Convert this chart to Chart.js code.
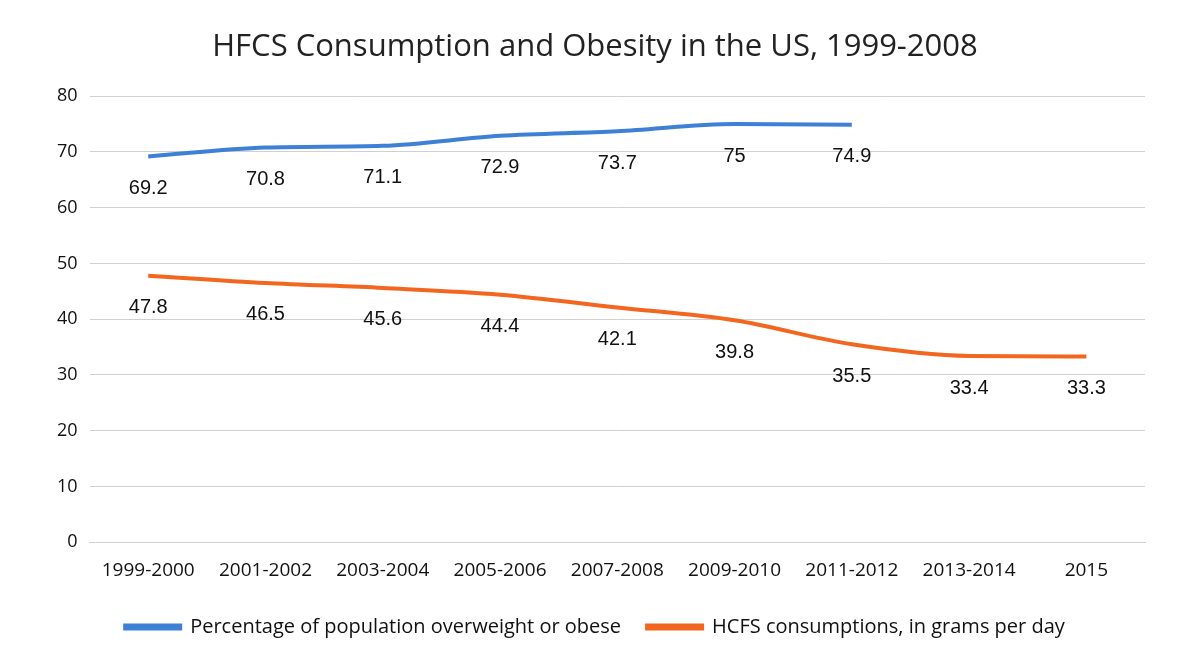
<!DOCTYPE html>
<html>
<head>
<meta charset="utf-8">
<script src="https://cdn.jsdelivr.net/npm/chart.js@4"></script>
<style>
  html, body { margin: 0; padding: 0; background: #fff; }
  #wrap { width: 1200px; height: 672px; }
</style>
</head>
<body>
<div id="wrap"><canvas id="chart"></canvas></div>
<script>
// categories and series values
const periods = ['1999-2000', '2001-2002', '2003-2004', '2005-2006', '2007-2008', '2009-2010', '2011-2012', '2013-2014', '2015'];
const overweightPct = [69.2, 70.8, 71.1, 72.9, 73.7, 75, 74.9, null, null];
const hfcsGrams = [47.8, 46.5, 45.6, 44.4, 42.1, 39.8, 35.5, 33.4, 33.3];
const yTicks = [0, 10, 20, 30, 40, 50, 60, 70, 80];

const FONT = '"Open Sans", "Liberation Sans", sans-serif';

// labels drawn under each point, like the Excel data labels
const pointLabels = {
  id: 'pointLabels',
  afterDatasetsDraw(chart) {
    const ctx = chart.ctx;
    ctx.save();
    ctx.font = '20px "Liberation Sans", Arial, sans-serif';
    ctx.fillStyle = '#111';
    ctx.textAlign = 'center';
    ctx.textBaseline = 'middle';
    chart.data.datasets.forEach((ds, i) => {
      const meta = chart.getDatasetMeta(i);
      meta.data.forEach((pt, j) => {
        const v = ds.data[j];
        if (v === null || v === undefined) return;
        ctx.fillText(String(v), pt.x, pt.y + 32);
      });
    });
    ctx.restore();
  }
};

new Chart(document.getElementById('chart'), {
  type: 'line',
  data: {
    labels: periods,
    datasets: [
      {
        label: 'Percentage of population overweight or obese',
        data: overweightPct,
        borderColor: '#3d80d6',
        backgroundColor: '#3d80d6',
        borderWidth: 4,
        cubicInterpolationMode: 'monotone',
        pointRadius: 0,
        spanGaps: false
      },
      {
        label: 'HCFS consumptions, in grams per day',
        data: hfcsGrams,
        borderColor: '#f2661f',
        backgroundColor: '#f2661f',
        borderWidth: 4,
        cubicInterpolationMode: 'monotone',
        pointRadius: 0
      }
    ]
  },
  options: {
    responsive: true,
    maintainAspectRatio: false,
    animation: false,
    layout: { padding: { left: 45, right: 55, top: 8, bottom: 25 } },
    scales: {
      x: {
        offset: true,
        grid: { display: false },
        border: { color: '#d0d0d0' },
        ticks: { color: '#111', font: { family: FONT, size: 19 }, maxRotation: 0, padding: 9 }
      },
      y: {
        min: 0,
        max: 80,
        afterBuildTicks(axis) { axis.ticks = yTicks.map(v => ({ value: v })); },
        grid: { color: '#d0d0d0', lineWidth: 1, drawTicks: false },
        border: { display: false },
        ticks: { color: '#111', font: { family: FONT, size: 18 }, padding: 12 }
      }
    },
    plugins: {
      title: {
        display: true,
        text: 'HFCS Consumption and Obesity in the US, 1999-2008',
        color: '#222',
        font: { family: FONT, size: 31, weight: 'normal' },
        padding: { top: 21, bottom: 30 }
      },
      legend: {
        position: 'bottom',
        labels: {
          color: '#111',
          font: { family: FONT, size: 20 },
          boxWidth: 55,
          boxHeight: 3,
          padding: 26
        }
      },
      tooltip: { enabled: false }
    }
  },
  plugins: [pointLabels]
});
</script>
</body>
</html>
